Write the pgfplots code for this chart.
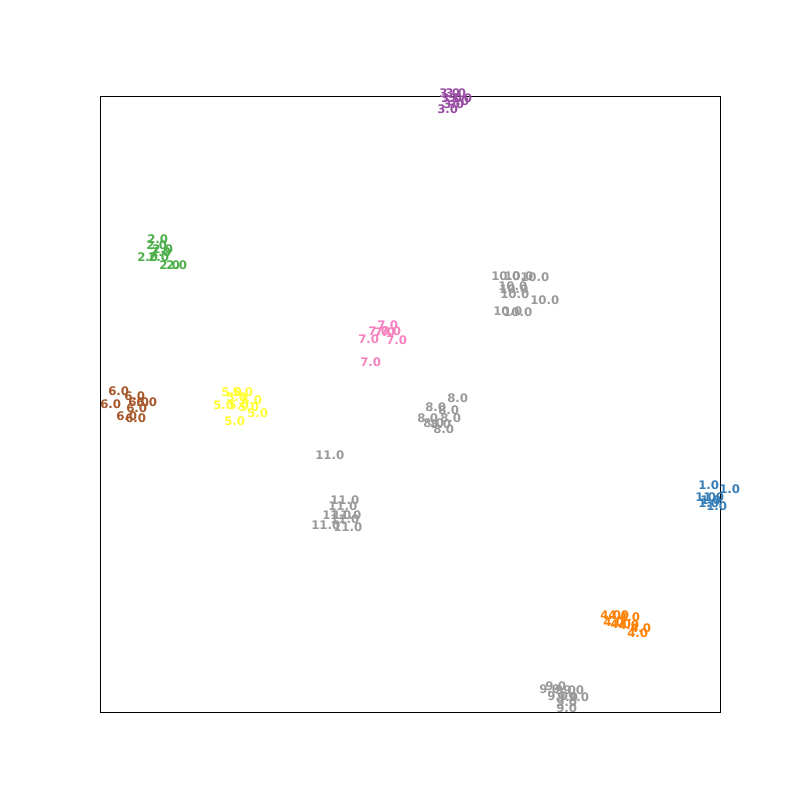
\documentclass[border=0pt]{standalone}
\usepackage{pgfplots}
\pgfplotsset{compat=1.18}
\usepackage{fontspec}
\setmainfont{DejaVu Sans}
\definecolor{cA}{HTML}{377EB8}
\definecolor{cB}{HTML}{4DAF4A}
\definecolor{cC}{HTML}{984EA3}
\definecolor{cD}{HTML}{FF7F00}
\definecolor{cE}{HTML}{FFFF33}
\definecolor{cF}{HTML}{A65628}
\definecolor{cG}{HTML}{F781BF}
\definecolor{cH}{HTML}{999999}
\begin{document}
\begin{tikzpicture}
\begin{axis}[
  scale only axis, width=446.4pt, height=443.52pt,
  xmin=100, xmax=720, ymin=88, ymax=704,
  xtick=\empty, ytick=\empty, clip=false,
  axis line style={black, line width=0.6pt},
  y dir=normal,
  every node near coord/.style={anchor=west, inner sep=0pt, font=\fontsize{8.5}{10}\selectfont\bfseries},
]
\path (axis cs:0,0) rectangle (axis cs:800,800);
% cluster 3
\addplot[cC, only marks, mark=none, nodes near coords={3.0}, every node near coord/.append style={text=cC}] table[y expr=800-\thisrowno{1}] {
439 93
445 93
441 98
448 101
443 104
437 109
451 98
};
% cluster 2
\addplot[cB, only marks, mark=none, nodes near coords={2.0}, every node near coord/.append style={text=cB}] table[y expr=800-\thisrowno{1}] {
147 239
146 245
152 249
137 257
148 257
150 252
159 265
166 265
};
% cluster 10
\addplot[cH, only marks, mark=none, nodes near coords={10.0}, every node near coord/.append style={text=cH}] table[y expr=800-\thisrowno{1}] {
491 276
504 276
520 277
498 286
499 289
500 294
530 300
493 311
503 312
};
% cluster 7
\addplot[cG, only marks, mark=none, nodes near coords={7.0}, every node near coord/.append style={text=cG}] table[y expr=800-\thisrowno{1}] {
377 325
368 331
374 332
380 331
358 339
386 340
360 362
};
% cluster 6
\addplot[cF, only marks, mark=none, nodes near coords={6.0}, every node near coord/.append style={text=cF}] table[y expr=800-\thisrowno{1}] {
108 391
124 396
100 404
128 402
136 402
126 408
116 416
125 418
};
% cluster 5
\addplot[cE, only marks, mark=none, nodes near coords={5.0}, every node near coord/.append style={text=cE}] table[y expr=800-\thisrowno{1}] {
221 392
232 392
226 397
241 400
213 405
228 405
238 407
247 413
224 421
};
% cluster 8
\addplot[cH, only marks, mark=none, nodes near coords={8.0}, every node near coord/.append style={text=cH}] table[y expr=800-\thisrowno{1}] {
447 398
425 407
438 410
417 418
440 418
423 423
430 424
433 429
};
% cluster 11
\addplot[cH, only marks, mark=none, nodes near coords={11.0}, every node near coord/.append style={text=cH}] table[y expr=800-\thisrowno{1}] {
315 455
330 500
328 506
322 515
332 515
330 519
311 525
333 527
};
% cluster 1
\addplot[cA, only marks, mark=none, nodes near coords={1.0}, every node near coord/.append style={text=cA}] table[y expr=800-\thisrowno{1}] {
698 485
719 489
695 497
703 497
700 500
698 503
706 506
};
% cluster 4
\addplot[cD, only marks, mark=none, nodes near coords={4.0}, every node near coord/.append style={text=cD}] table[y expr=800-\thisrowno{1}] {
600 615
608 615
619 617
603 622
610 624
618 625
630 628
627 633
};
% cluster 9
\addplot[cH, only marks, mark=none, nodes near coords={9.0}, every node near coord/.append style={text=cH}] table[y expr=800-\thisrowno{1}] {
545 686
539 689
555 690
563 690
547 696
557 697
568 697
556 702
556 708
};
\end{axis}
\end{tikzpicture}
\end{document}
